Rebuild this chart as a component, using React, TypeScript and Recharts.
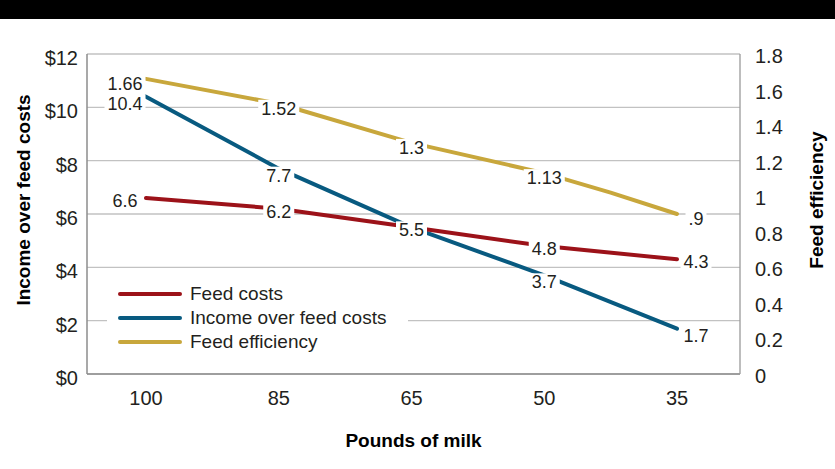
import React from 'react';
import { LineChart, Line, XAxis, YAxis, CartesianGrid, Legend, LabelList } from 'recharts';

// ---- data ----
const milkLabels = ['100', '85', '65', '50', '35'];
const positions = [0, 1, 2, 3, 4, 5, 6, 7, 8];
const feedCosts = [6.6, null, 6.2, null, 5.5, null, 4.8, null, 4.3];
const incomeOverFeed = [10.4, null, 7.7, null, 5.5, null, 3.7, null, 1.7];
const feedEfficiency = [1.66, null, 1.52, null, 1.3, null, 1.13, 1.02, 0.9];
const dollarTicks = [0, 2, 4, 6, 8, 10, 12];
const efficiencyTicks = [0, 0.2, 0.4, 0.6, 0.8, 1, 1.2, 1.4, 1.6, 1.8];
const tickPositions = [0, 2, 4, 6, 8];
const seriesNames = ['Feed costs', 'Income over feed costs', 'Feed efficiency'];
const seriesColors = ['#9c1219', '#085a80', '#c8a73c'];

const data = positions.map((p, i) => ({
  pos: p,
  feed: feedCosts[i],
  income: incomeOverFeed[i],
  eff: feedEfficiency[i],
}));

const FONT = '"Liberation Sans", Arial, Helvetica, sans-serif';
const TEXT = '#231f20';
const LABEL_SIZE = 18;

function textWidth(s: string, size: number) {
  let w = 0;
  for (const c of s) w += (c === '.' ? 0.278 : 0.556) * size;
  return w;
}

const fmtPlain = (v: number) => String(v);
const fmtEff = (v: number) => (v < 1 ? String(v).replace(/^0/, '') : String(v));

// skipSame: another series whose identical label at the same point is already shown
const makeLabel = (fmt: (v: number) => string, dy: number, skipSame?: (number | null)[]) => (props: any) => {
  const index = props.index;
  const value = props.value;
  const x = props.x ?? props.viewBox?.x;
  const y = props.y ?? props.viewBox?.y;
  if (value == null || x == null || y == null || index % 2 !== 0) return null;
  if (skipSame && skipSame[index] === value) return null;
  const text = fmt(Number(value));
  const last = positions.length - 1;
  const cx = index === 0 ? x - 21 : index === last ? x + 19 : x;
  const cy = y + dy;
  const w = textWidth(text, LABEL_SIZE) + 6;
  return (
    <g>
      <rect x={cx - w / 2} y={cy - 9} width={w} height={18} fill="#ffffff" />
      <text x={cx} y={cy} textAnchor="middle" dominantBaseline="central" fontSize={LABEL_SIZE} fontFamily={FONT} fill={TEXT}>
        {text}
      </text>
    </g>
  );
};

const LeftTick = (props: any) => {
  const { x, y, payload } = props;
  return (
    <text x={x} y={y + 4} textAnchor="end" dominantBaseline="central" fontSize={20} fontFamily={FONT} fill={TEXT}>
      {'$' + payload.value}
    </text>
  );
};

const RightTick = (props: any) => {
  const { x, y, payload } = props;
  return (
    <text x={x} y={y + 2} textAnchor="start" dominantBaseline="central" fontSize={20} fontFamily={FONT} fill={TEXT}>
      {String(Math.round(payload.value * 10) / 10)}
    </text>
  );
};

const BottomTick = (props: any) => {
  const { x, y, payload } = props;
  return (
    <text x={x} y={y + 24} textAnchor="middle" dominantBaseline="central" fontSize={20} fontFamily={FONT} fill={TEXT}>
      {milkLabels[Math.round(payload.value / 2)]}
    </text>
  );
};

const LegendContent = () => (
  <div style={{ background: '#ffffff', width: 301, height: 78, boxSizing: 'border-box', paddingLeft: 11 }}>
    {seriesNames.map((n, i) => (
      <div key={n} style={{ display: 'flex', alignItems: 'center', height: 24 }}>
        <span style={{ display: 'inline-block', width: 64, height: 4, borderRadius: 2, background: seriesColors[i], marginRight: 8 }} />
        <span style={{ fontSize: 19, color: TEXT, lineHeight: '24px', fontFamily: FONT }}>{n}</span>
      </div>
    ))}
  </div>
);

export default function App() {
  return (
    <div style={{ position: 'absolute', left: 0, top: 0, width: 835, height: 469, background: '#ffffff', fontFamily: FONT }}>
      <LineChart width={835} height={469} data={data} margin={{ top: 54, right: 0, bottom: 0, left: 0 }}>
        <CartesianGrid yAxisId="left" vertical={false} stroke="#c2c2c2" strokeWidth={1.3} />
        <XAxis
          dataKey="pos"
          type="number"
          domain={[0, 8]}
          ticks={tickPositions}
          padding={{ left: 59, right: 63 }}
          height={95}
          tickLine={false}
          tickSize={0}
          tickMargin={0}
          axisLine={{ stroke: '#8c8c8c', strokeWidth: 1.5 }}
          tick={<BottomTick />}
          label={{
            content: (p: any) => {
              const vb = p.viewBox || { x: 87, y: 374, width: 653, height: 95 };
              return (
                <text x={vb.x + vb.width / 2} y={vb.y + 66} textAnchor="middle" dominantBaseline="central" fontSize={19} fontWeight="bold" fontFamily={FONT} fill="#000">
                  Pounds of milk
                </text>
              );
            },
          }}
        />
        <YAxis
          yAxisId="left"
          width={87}
          domain={[0, 12]}
          ticks={dollarTicks}
          tickLine={false}
          tickSize={0}
          tickMargin={9}
          axisLine={{ stroke: '#8c8c8c', strokeWidth: 1.5 }}
          tick={<LeftTick />}
          label={{
            content: (p: any) => {
              const vb = p.viewBox || { x: 0, y: 54, width: 87, height: 320 };
              const tx = vb.x + 23;
              const ty = vb.y + vb.height / 2 - 14;
              return (
                <text x={tx} y={ty} transform={`rotate(-90, ${tx}, ${ty})`} textAnchor="middle" dominantBaseline="central" fontSize={19} fontWeight="bold" fontFamily={FONT} fill="#000">
                  Income over feed costs
                </text>
              );
            },
          }}
        />
        <YAxis
          yAxisId="right"
          orientation="right"
          width={95}
          domain={[0, 1.8]}
          ticks={efficiencyTicks}
          tickLine={false}
          tickSize={0}
          tickMargin={15}
          axisLine={{ stroke: '#9a9a9a', strokeWidth: 1.3 }}
          tick={<RightTick />}
          label={{
            content: (p: any) => {
              const vb = p.viewBox || { x: 740, y: 54, width: 95, height: 320 };
              const tx = vb.x + 76;
              const ty = vb.y + vb.height / 2 - 14;
              return (
                <text x={tx} y={ty} transform={`rotate(-90, ${tx}, ${ty})`} textAnchor="middle" dominantBaseline="central" fontSize={19} fontWeight="bold" fontFamily={FONT} fill="#000">
                  Feed efficiency
                </text>
              );
            },
          }}
        />
        <Legend
          layout="vertical"
          align="center"
          verticalAlign="middle"
          wrapperStyle={{ left: 107, top: 282, width: 301, height: 78 }}
          content={<LegendContent />}
        />
        <Line
          yAxisId="left"
          type="linear"
          dataKey="income"
          name={seriesNames[1]}
          stroke={seriesColors[1]}
          strokeWidth={4}
          strokeLinecap="round"
          strokeLinejoin="round"
          dot={false}
          activeDot={false}
          connectNulls
          isAnimationActive={false}
        >
          <LabelList dataKey="income" content={makeLabel(fmtPlain, 7, feedCosts)} />
        </Line>
        <Line
          yAxisId="left"
          type="linear"
          dataKey="feed"
          name={seriesNames[0]}
          stroke={seriesColors[0]}
          strokeWidth={4}
          strokeLinecap="round"
          strokeLinejoin="round"
          dot={false}
          activeDot={false}
          connectNulls
          isAnimationActive={false}
        >
          <LabelList dataKey="feed" content={makeLabel(fmtPlain, 3)} />
        </Line>
        <Line
          yAxisId="right"
          type="linear"
          dataKey="eff"
          name={seriesNames[2]}
          stroke={seriesColors[2]}
          strokeWidth={4}
          strokeLinecap="round"
          strokeLinejoin="round"
          dot={false}
          activeDot={false}
          connectNulls
          isAnimationActive={false}
        >
          <LabelList dataKey="eff" content={makeLabel(fmtEff, 5)} />
        </Line>
      </LineChart>
      <div style={{ position: 'absolute', left: 0, top: 0, width: 835, height: 19, background: '#000' }} />
    </div>
  );
}
